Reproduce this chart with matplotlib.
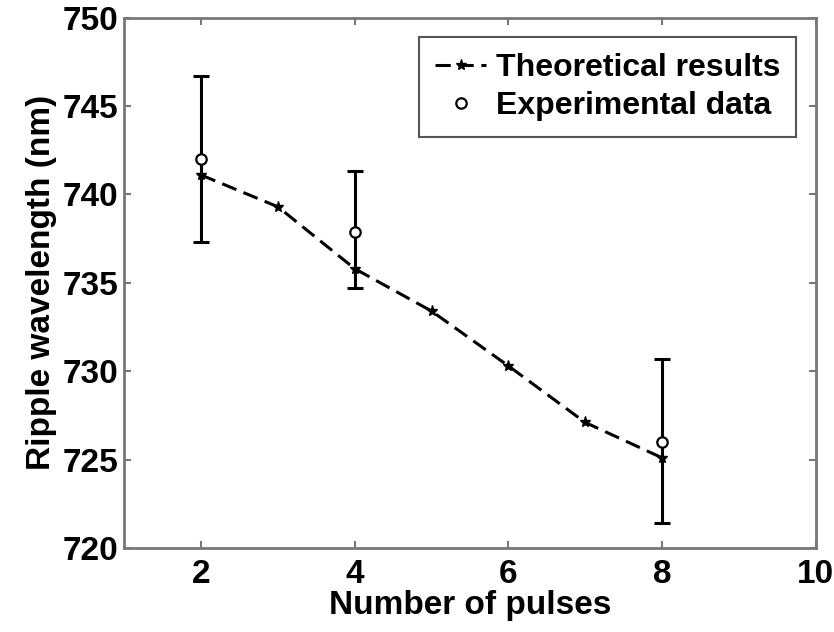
import numpy as np
import matplotlib
matplotlib.use('Agg')
import matplotlib.pyplot as plt

plt.rcParams['font.family'] = ['Liberation Sans', 'DejaVu Sans']
plt.rcParams['font.weight'] = 'bold'

# theoretical curve
pulses_theory = [2, 3, 4, 5, 6, 7, 8]
wavelength_theory = [741.1, 739.3, 735.8, 733.4, 730.3, 727.1, 725.1]

# experimental points with error bars
pulses_exp = [2, 4, 8]
wavelength_exp = [742.0, 737.9, 726.0]
err_low = [4.7, 3.2, 4.6]
err_high = [4.7, 3.4, 4.7]

fig = plt.figure(figsize=(8.34, 6.32), dpi=100)
ax = fig.add_axes([0.149, 0.133, 0.829, 0.839])

ax.plot(pulses_theory, wavelength_theory, linestyle=(0, (5, 2.5)), color='black',
        linewidth=2.2, marker='*', markersize=8, label='Theoretical results')
ax.errorbar(pulses_exp, wavelength_exp, yerr=[err_low, err_high], fmt='none',
            ecolor='black', elinewidth=2.2, capsize=6, capthick=2.2)
ax.plot(pulses_exp, wavelength_exp, linestyle='none', marker='o', markersize=7.5,
        markerfacecolor='white', markeredgecolor='black', markeredgewidth=1.6,
        label='Experimental data')

ax.set_xlim(1, 10)
ax.set_ylim(720, 750)
ax.set_xticks([2, 4, 6, 8, 10])
ax.set_yticks([720, 725, 730, 735, 740, 745, 750])
ax.tick_params(direction='in', length=5, width=1.5, color='#777777',
               labelsize=24, top=True, right=True)
ax.tick_params(axis='y', pad=4)
ax.tick_params(axis='x', pad=8)
for s in ax.spines.values():
    s.set_color('#777777')
    s.set_linewidth(2)

ax.set_xlabel('Number of pulses', fontsize=24, fontweight='bold', labelpad=0)
ax.set_ylabel('Ripple wavelength (nm)', fontsize=24, fontweight='bold', labelpad=4)

leg = ax.legend(loc='upper right', fontsize=23, handlelength=1.6, handletextpad=0.3,
                borderpad=0.5, labelspacing=0.25, fancybox=False, framealpha=1,
                borderaxespad=0.6)
leg.get_frame().set_edgecolor('#555555')
leg.get_frame().set_linewidth(1.5)

fig.savefig('out.png', dpi=100)
